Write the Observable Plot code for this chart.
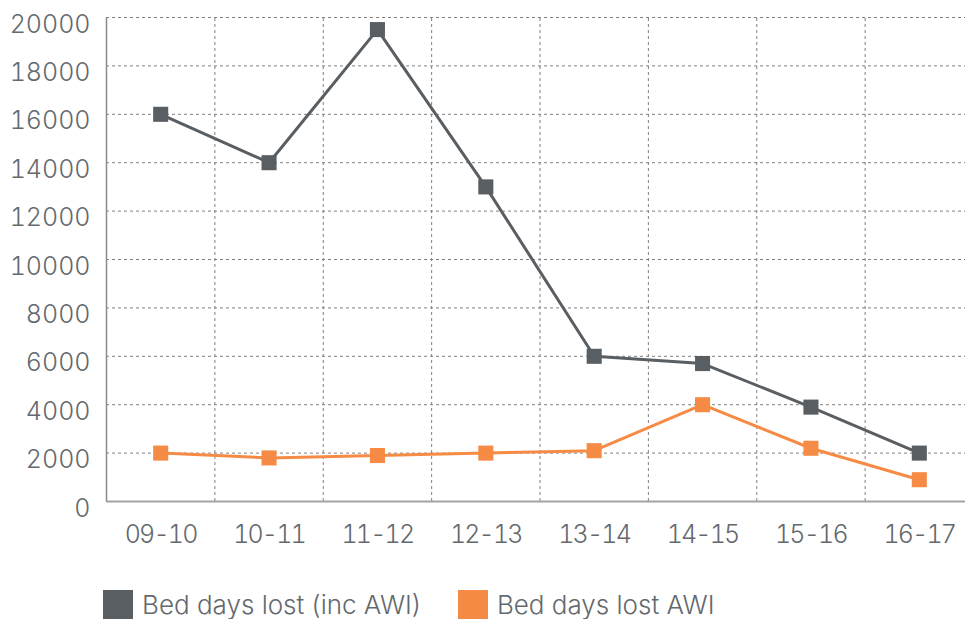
<!DOCTYPE html>
<html>
<head>
<meta charset="utf-8">
<script src="https://cdn.jsdelivr.net/npm/d3@7"></script>
<script src="https://cdn.jsdelivr.net/npm/@observablehq/plot@0.6"></script>
<style>
  html, body { margin: 0; padding: 0; background: #fff; overflow: hidden; }
  body { position: relative; width: 965px; height: 619px; font-family: Inter, sans-serif; font-weight: 300; }
  #legend { position: absolute; left: 103px; top: 589px; display: flex; align-items: center; font-size: 26px; color: #64696e; }
  .item { display: flex; align-items: center; margin-right: 37px; }
  .sw { width: 30px; height: 30px; margin-right: 9px; }
  svg text { font-weight: 300; }
  svg g[aria-label="x-axis tick label"] text { letter-spacing: -1.8px; }
</style>
</head>
<body>
<div id="chart"></div>
<div id="legend"></div>
<script>
const categories = ["09-10", "10-11", "11-12", "12-13", "13-14", "14-15", "15-16", "16-17"];
const bedDaysIncAWI = [16000, 14000, 19500, 13000, 6000, 5700, 3900, 2000];
const bedDaysAWI = [2000, 1800, 1900, 2000, 2100, 4000, 2200, 900];
const seriesNames = ["Bed days lost (inc AWI)", "Bed days lost AWI"];
const seriesColors = ["#595e63", "#f68b45"];
const yTicks = [0, 2000, 4000, 6000, 8000, 10000, 12000, 14000, 16000, 18000, 20000];

const rows = [];
categories.forEach((c, i) => {
  rows.push({i, cat: c, value: bedDaysIncAWI[i], series: seriesNames[0]});
  rows.push({i, cat: c, value: bedDaysAWI[i], series: seriesNames[1]});
});
const edges = categories.slice(0, -1).map((c, i) => i + 0.5);

const chart = Plot.plot({
  width: 965,
  height: 560,
  marginLeft: 106,
  marginRight: 0,
  marginTop: 17,
  marginBottom: 59,
  style: { fontFamily: "Inter, sans-serif", fontSize: "25px", color: "#64696e", background: "#fff", overflow: "visible" },
  x: { type: "linear", domain: [-0.5, categories.length - 0.5], range: [106, 973] },
  y: { domain: [0, 20000] },
  color: { domain: seriesNames, range: seriesColors },
  marks: [
    Plot.ruleY(yTicks.filter(d => d > 0), { stroke: "#808080", strokeWidth: 1, strokeDasharray: "3,3" }),
    Plot.ruleX(edges, { y1: 0, y2: 20000, stroke: "#808080", strokeWidth: 1, strokeDasharray: "3,3" }),
    Plot.ruleY([0], { stroke: "#a3a3a3", strokeWidth: 2 }),
    Plot.ruleX([-0.5], { y1: 0, y2: 20000, stroke: "#8a8a8a", strokeWidth: 1.5 }),
    Plot.axisY({ ticks: yTicks, tickSize: 0, tickPadding: 16, dy: 7, tickFormat: d => String(d), label: null, fill: "#64696e" }),
    Plot.axisX({ ticks: d3.range(categories.length), tickSize: 0, tickPadding: 24, tickFormat: i => categories[i], label: null, fill: "#64696e" }),
    Plot.line(rows, { x: "i", y: "value", stroke: "series", z: "series", strokeWidth: 3 }),
    Plot.dot(rows, { x: "i", y: "value", fill: "series", symbol: "square", r: 8.5 })
  ]
});
document.getElementById("chart").appendChild(chart);

const legend = document.getElementById("legend");
seriesNames.forEach((name, k) => {
  const item = document.createElement("div");
  item.className = "item";
  const sw = document.createElement("div");
  sw.className = "sw";
  sw.style.background = seriesColors[k];
  const label = document.createElement("span");
  label.textContent = name;
  item.appendChild(sw);
  item.appendChild(label);
  legend.appendChild(item);
});
</script>
</body>
</html>
